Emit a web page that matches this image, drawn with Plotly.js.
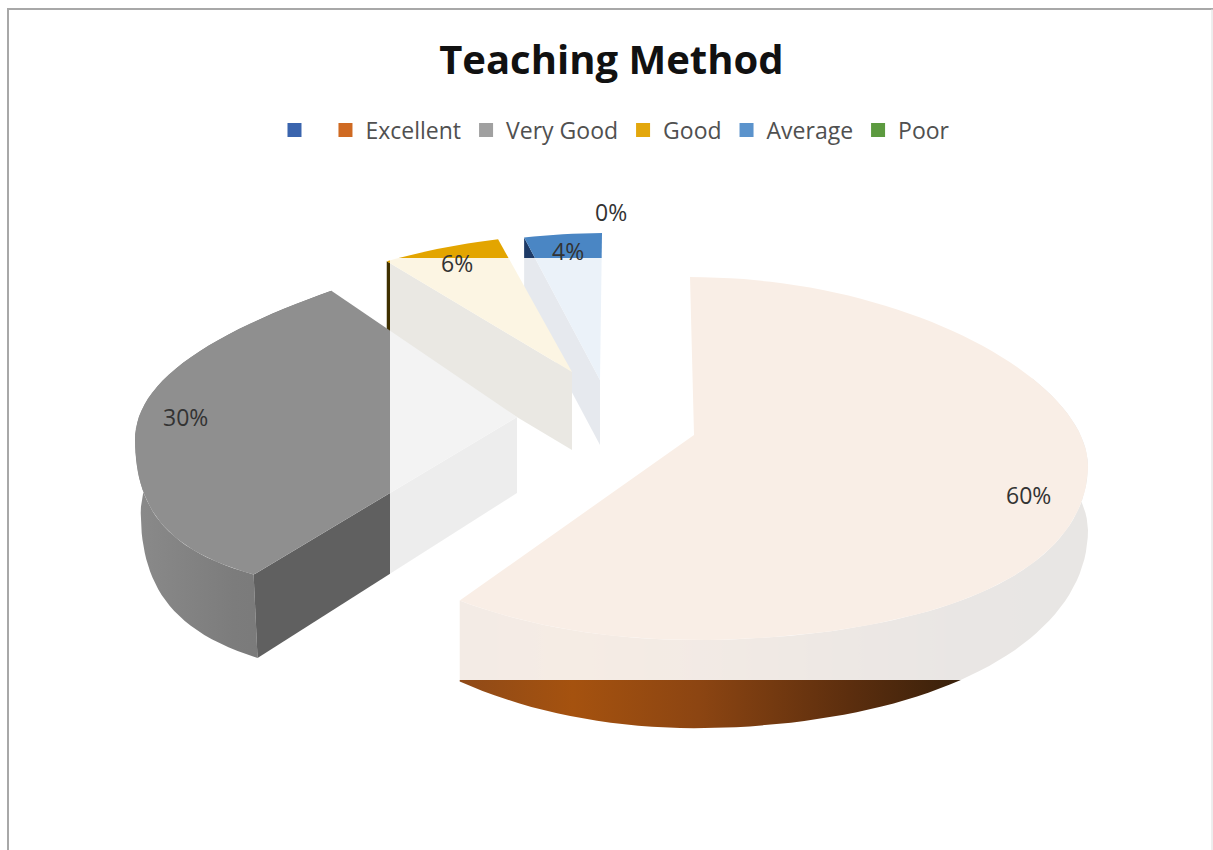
<!DOCTYPE html>
<html><head><meta charset="utf-8">
<script src="https://cdn.plot.ly/plotly-3.0.1.min.js"></script>
<style>html,body{margin:0;padding:0;background:#fff}#c{width:1213px;height:850px}</style>
</head><body><div id="c"></div>
<script>
const categories = ["Excellent","Very Good","Good","Average","Poor"];
const shares = [60,30,6,4,0];
const blankLegendName = " ";
const legendColors = ["#3a64ad","#cf6a22","#a0a0a0","#e3a70c","#5b93cc","#5c9a3f"];
const titleText = "Teaching Method";

// projection frame of each exploded slice (page-pixel axes)
const frames = [
 {cx:694,cy:435,rx:394,rsF:7,rsB:7,xs:4,ryB:158,ryF:205,b:30,sL:31,d:80,kx:1,ky:1.04,bd:15,rimSkip:60},
 {cx:517,cy:417,rx:382,rsF:101,rsB:125,xs:0,ryB:166,ryF:185,b:23,sL:0,d:76,kx:0.985,ky:1.057,bd:20,rimSkip:0},
 {cx:572,cy:372,rx:340,rsF:0,rsB:47,xs:0,ryB:137,ryF:137,b:0,sL:0,d:78,kx:1,ky:1,bd:0,rimSkip:null},
 {cx:600,cy:380,rx:313,rsF:0,rsB:0,xs:-2,ryB:147,ryF:147,b:0,sL:0,d:65,kx:1,ky:1,bd:0,rimSkip:null},
 {cx:600,cy:380,rx:313,rsF:0,rsB:0,xs:-2,ryB:147,ryF:147,b:0,sL:0,d:65,kx:1,ky:1,bd:0,rimSkip:null}
];
const topColors = ["#c9641c","#8f8f8f","#e3a500","#4a86c4","#5c9a3f"];
const faceColors = [null,"#606060","#3f3000","#1d3a66","#3a6a2a"];
const rimScales = [
 [[0,"#8f4a18"],[0.18,"#a5520f"],[0.38,"#8c4512"],[0.62,"#5c2e0e"],[0.8,"#38200b"],[1,"#30200c"]],
 [[0,"#8a8a8a"],[0.5,"#7c7c7c"],[1,"#767676"]]
];
function pt(f,deg,bottom){
  const t=deg*Math.PI/180,u=Math.sin(t),v=-Math.cos(t);
  const radius=f.rx+(v>=0?f.rsF*v*v:f.rsB*v*v*v);
  const dx=u*radius+f.xs*Math.min(v,0);
  const vert=v*(v>0?f.ryF:f.ryB)+(u<0?-f.sL*u*u:0);
  if(bottom) return [f.cx+dx*f.kx, f.cy+f.d+vert*f.ky+f.bd*(1-v*v)];
  return [f.cx+dx, f.cy+vert+f.b*(1-v*v)];
}
function arc(f,a0,a1,bottom){
  const n=Math.max(2,Math.ceil(Math.abs(a1-a0)/2)),o=[];
  for(let i=0;i<=n;i++)o.push(pt(f,a0+(a1-a0)*i/n,bottom));
  return o;
}
function poly(points,color,extra){
  return Object.assign({type:"scatter",mode:"lines",x:points.map(p=>p[0]),y:points.map(p=>p[1]),
    fill:"toself",fillcolor:color,line:{width:0,color:color},showlegend:false,hoverinfo:"skip"},extra||{});
}
const traces=[];
let start=0;
const spans=shares.map(s=>{const a=[start,start+s*3.6];start=a[1];return a;});
// painter order: back slices first
[3,2,1,0].forEach(i=>{
  const f=frames[i],[a0,a1]=spans[i];
  const apex=[f.cx,f.cy];
  if(f.rimSkip!==null){
    const r0=a0+f.rimSkip;
    const rim=arc(f,r0,a1,false).concat(arc(f,a1,r0,true));
    traces.push(poly(rim.concat([rim[0]]),topColors[i],{fillgradient:{type:"horizontal",colorscale:rimScales[i]}}));
  }
  // visible cut face of the slice
  if(faceColors[i]){
    const e=pt(f,a0,false),eb=pt(f,a0,true);
    traces.push(poly([apex,e,eb,[f.cx,f.cy+f.d],apex],faceColors[i]));
  }
  // top surface
  traces.push(poly([apex].concat(arc(f,a0,a1,false)).concat([apex]),topColors[i]));
});
// legend entries
[blankLegendName].concat(categories).forEach((name,i)=>{
  traces.push({type:"scatter",mode:"markers",x:[-100],y:[-100],name:name,showlegend:true,hoverinfo:"skip",
    marker:{symbol:"square",size:14,color:legendColors[i]}});
});
const labelPos=[[1028,495],[185,417],[457,263],[568,251],[611,212]];
const annotations=shares.map((s,i)=>({xref:"x",yref:"y",x:labelPos[i][0],y:labelPos[i][1],text:s+"%",showarrow:false,
  font:{family:"Open Sans, sans-serif",size:23,color:"#333"}}));
const layout={
  width:1213,height:850,margin:{l:0,r:0,t:0,b:0},paper_bgcolor:"#fff",plot_bgcolor:"#fff",
  title:{text:"<b>"+titleText+"</b>",x:0.504,xanchor:"center",y:0.93,yanchor:"middle",font:{family:"Open Sans, sans-serif",size:40,color:"#111"}},
  xaxis:{range:[0,1213],visible:false,fixedrange:true},
  yaxis:{range:[850,0],visible:false,fixedrange:true},
  showlegend:true,
  legend:{orientation:"h",x:0.507,xanchor:"center",y:0.847,yanchor:"middle",font:{family:"Open Sans, sans-serif",size:23,color:"#505050"},itemwidth:30,traceorder:"normal"},
  annotations:annotations,
  shapes:[
   {type:"rect",layer:"above",xref:"x",yref:"y",x0:390,x1:1213,y0:258,y1:680,fillcolor:"rgba(255,255,255,0.89)",line:{width:0}},
   {type:"line",layer:"above",xref:"x",yref:"y",x0:8,x1:8,y0:8,y1:850,line:{color:"#a8a8a8",width:2}},
   {type:"line",layer:"above",xref:"x",yref:"y",x0:8,x1:1213,y0:9,y1:9,line:{color:"#a8a8a8",width:2}},
   {type:"line",layer:"above",xref:"x",yref:"y",x0:1212,x1:1212,y0:9,y1:850,line:{color:"#dcdcdc",width:1}}
  ]
};
Plotly.newPlot("c",traces,layout,{displayModeBar:false,staticPlot:true});
</script></body></html>
